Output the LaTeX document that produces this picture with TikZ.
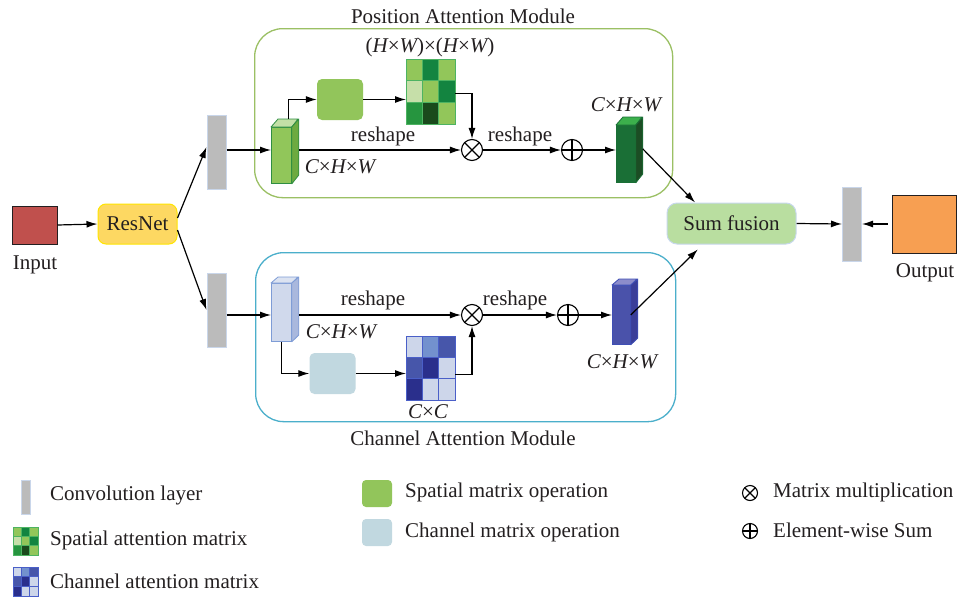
\documentclass[tikz,border=0pt]{standalone}
\usepackage{fontspec}
\setmainfont{Liberation Serif}
\usetikzlibrary{arrows.meta,calc}

% palette
\definecolor{txt}{HTML}{231F20}
\definecolor{inred}{HTML}{C0504D}
\definecolor{outorange}{HTML}{F79F52}
\definecolor{resfill}{HTML}{FDD862}
\definecolor{resedge}{HTML}{FFE500}
\definecolor{convgray}{HTML}{BBBBBB}
\definecolor{convedge}{HTML}{C9D6EA}
\definecolor{posedge}{HTML}{9BC064}
\definecolor{chanedge}{HTML}{4BAFCB}
\definecolor{spop}{HTML}{92C55B}
\definecolor{chop}{HTML}{C1D8E0}
\definecolor{sumfill}{HTML}{B9DEA0}
\definecolor{sumedge}{HTML}{C7D8EC}
% cuboid faces: F front, S side, T top, E edge
\definecolor{gcF}{HTML}{91C65A}\definecolor{gcS}{HTML}{6DAA40}
\definecolor{gcT}{HTML}{C3E0A6}\definecolor{gcE}{HTML}{2F8E42}
\definecolor{dgF}{HTML}{1A6F36}\definecolor{dgS}{HTML}{1C4D24}
\definecolor{dgT}{HTML}{3CB04C}\definecolor{dgE}{HTML}{1A6F36}
\definecolor{lbF}{HTML}{D0D9EC}\definecolor{lbS}{HTML}{A9B8DD}
\definecolor{lbT}{HTML}{DCE3F1}\definecolor{lbE}{HTML}{7E9CD6}
\definecolor{dbF}{HTML}{4A52AA}\definecolor{dbS}{HTML}{3A3E99}
\definecolor{dbT}{HTML}{8D8DCB}\definecolor{dbE}{HTML}{3F4FB5}
% attention matrix cells
\definecolor{gL}{HTML}{92C65A}\definecolor{gD}{HTML}{138440}
\definecolor{gP}{HTML}{C6DFA9}\definecolor{gM}{HTML}{26953F}
\definecolor{gV}{HTML}{1A4A1C}\definecolor{gGrid}{HTML}{4DB362}
\definecolor{bP}{HTML}{CDD6EA}\definecolor{bM}{HTML}{7391CE}
\definecolor{bD}{HTML}{4756AA}\definecolor{bV}{HTML}{2A2F8C}
\definecolor{bGrid}{HTML}{4A5FC8}

% cuboid: name, north-west corner, width, height, depth x, depth y, colour prefix
\newcommand{\cuboidat}[7]{%
  \node[draw=#7E, fill=#7F, line width=0.8pt, minimum width=#3, minimum height=#4,
        inner sep=0, anchor=north west] (#1) at #2 {};
  \filldraw[draw=#7E, fill=#7T, line width=0.8pt, line join=round]
    (#1.north west) -- ++(#5,-#6) -- ++(#3,0) -- (#1.north east) -- cycle;
  \filldraw[draw=#7E, fill=#7S, line width=0.8pt, line join=round]
    (#1.north east) -- ++(#5,-#6) -- ++(0,#4) -- (#1.south east) -- cycle;
}

% 3x3 grid of coloured cells: name, north-west corner, cell w, cell h, colours, grid colour
\newcommand{\cellgrid}[6]{%
  \node[minimum width=3*#3, minimum height=3*#4, inner sep=0, anchor=north west] (#1) at #2 {};
  \foreach \c [count=\i from 0] in {#5}{%
    \pgfmathtruncatemacro\gcol{mod(\i,3)}%
    \pgfmathtruncatemacro\grow{div(\i,3)}%
    \filldraw[fill=\c, draw=#6, line width=0.8pt]
      ($(#1.north west)+(\gcol*#3,\grow*#4)$) rectangle ++(#3,#4);
  }
}

\tikzset{
  arr/.style={-{Latex[length=11pt,width=7pt]}, line width=1.2pt, draw=black},
  lbl/.style={font=\fontsize{21}{24}\selectfont, text=txt, inner sep=0},
  conv/.style={draw=convedge, fill=convgray, line width=1pt, minimum width=19,
               minimum height=74, inner sep=0},
  opbox/.style={rounded corners=5, inner sep=0, minimum width=46, minimum height=41},
  module/.style={rounded corners=28, line width=1.3pt, inner sep=0, anchor=north west},
  otimes/.style={circle, draw, line width=1.1pt, minimum size=21, inner sep=0,
    path picture={\draw[line width=1.1pt]
      (path picture bounding box.north west) -- (path picture bounding box.south east)
      (path picture bounding box.north east) -- (path picture bounding box.south west);}},
  oplus/.style={circle, draw, line width=1.1pt, minimum size=21, inner sep=0,
    path picture={\draw[line width=1.1pt]
      (path picture bounding box.north) -- (path picture bounding box.south)
      (path picture bounding box.west) -- (path picture bounding box.east);}},
}

\newcommand{\chw}{{\itshape C}×{\itshape H}×{\itshape W}}

\begin{document}
\begin{tikzpicture}[x=1pt, y=-1pt]
\useasboundingbox (0,0) rectangle (960,597);
\fill[white] (0,0) rectangle (960,597);

% ---------- modules ----------
\node[module, draw=posedge, minimum width=418, minimum height=169] (pam) at (254,28) {};
\node[lbl] (pamt) at (463,16) {Position Attention Module};
\node[module, draw=chanedge, minimum width=420, minimum height=169] (cam) at (255,252) {};
\node[lbl] (camt) at (463,438) {Channel Attention Module};

% ---------- backbone ----------
\node[draw=txt, fill=inred, line width=1pt, minimum width=45, minimum height=38, inner sep=0] (inp) at (34.5,225) {};
\node[lbl] (inpt) at (35,265) {Input};
\node[lbl, draw=resedge, fill=resfill, line width=1pt, rounded corners=8,
      minimum width=79, minimum height=40] (resnet) at (137.5,224) {ResNet};
\node[conv] (convA) at (216.5,152) {};
\node[conv] (convB) at (216.5,310) {};

\draw[arr] (inp.east) -- (resnet.west);
\draw[arr] ($(resnet.east)+(0,-6)$) -- ($(convA.west)+(0,-5)$);
\draw[arr] ($(resnet.east)+(0,6)$) -- (convB.west);

% ---------- position attention branch ----------
\cuboidat{gc}{(271,127)}{20}{56}{7}{8}{gc}
\node[opbox, fill=spop] (sop) at (340,99.5) {};
\cellgrid{gm}{(406,59)}{16.33}{21.67}{gL,gD,gL,gP,gL,gD,gM,gV,gL}{gGrid}
\node[lbl] (gmt) at (430,47) {({\itshape H}×{\itshape W})×({\itshape H}×{\itshape W})};
\node[otimes] (m1) at (472,150) {};
\node[oplus] (p1) at (572,150) {};
\cuboidat{dg}{(616,125)}{19}{57}{7}{8}{dg}
\node[lbl] (gct) at (340,167) {\chw};
\node[lbl] (dgt) at (626,105) {\chw};
\node[lbl] (rs1) at (383,136) {reshape};
\node[lbl] (rs2) at (520,136) {reshape};

\draw[arr] (convA.east |- m1) -- (gc.west |- m1);
\draw[arr] ($(gc.north)+(7,-8)$) |- (sop.west);
\draw[arr] (sop.east) -- (sop.east -| gm.west);
\draw[arr] ($(gm.east)+(0,2)$) -| (m1.north);
\draw[arr] ($(gc.east |- m1)+(7,0)$) -- (m1.west);
\draw[arr] (m1.east) -- (p1.west);
\draw[arr] (p1.east) -- (p1 -| dg.west);

% ---------- channel attention branch ----------
\cuboidat{bb}{(271,283)}{20}{58}{7}{6}{lb}
\node[opbox, fill=chop] (cop) at (332.5,373.5) {};
\cellgrid{bm}{(406,336)}{16.33}{21.33}{bP,bM,bD,bD,bV,bP,bV,bP,bP}{bGrid}
\node[lbl] (bmt) at (428,412) {{\itshape C}×{\itshape C}};
\node[otimes] (m2) at (472,315) {};
\node[oplus] (p2) at (568,315) {};
\cuboidat{bb2}{(612,285)}{18}{59}{7}{6}{db}
\node[lbl] (bbt) at (341,332) {\chw};
\node[lbl] (bb2t) at (622,362) {\chw};
\node[lbl] (rs3) at (373,300) {reshape};
\node[lbl] (rs4) at (515,300) {reshape};

\draw[arr] (convB.east |- m2) -- (bb.west |- m2);
\draw[arr] ($(bb.east |- m2)+(7,0)$) -- (m2.west);
\draw[arr] (bb.south) |- (cop.west);
\draw[arr] (cop.east) -- (cop.east -| bm.west);
\draw[arr] ($(bm.east)+(0,6)$) -| (m2.south);
\draw[arr] (m2.east) -- (p2.west);
\draw[arr] (p2.east) -- (p2 -| bb2.west);

% ---------- fusion and output ----------
\node[lbl, draw=sumedge, fill=sumfill, line width=1pt, rounded corners=10,
      minimum width=129, minimum height=41] (sf) at (731.5,223.5) {Sum fusion};
\node[conv] (convC) at (852,224) {};
\node[draw=txt, fill=outorange, line width=1pt, minimum width=64, minimum height=58, inner sep=0] (out) at (924,224) {};
\node[lbl] (outt) at (925,273) {Output};

\draw[arr] ($(dg.east)+(7,-5)$) -- ($(sf.north west)!0.22!(sf.north east)$);
\draw[arr, shorten >=7pt] (bb2.east) -- ($(sf.south west)!0.28!(sf.south east)$);
\draw[arr] (sf.east) -- (convC.west);
\draw[arr, shorten <=4pt] (out.west) -- (convC.east);

% ---------- legend ----------
\node[conv, minimum width=9, minimum height=34] (lgconv) at (25.5,497) {};
\node[lbl, anchor=west] (lgconvt) at (50,495) {Convolution layer};
\cellgrid{lgsp}{(13,527)}{8.33}{9.33}{gL,gD,gL,gP,gL,gD,gM,gV,gL}{gGrid}
\node[lbl, anchor=west] (lgspt) at (50,540) {Spatial attention matrix};
\cellgrid{lgch}{(13,567)}{8.33}{9.67}{bP,bM,bD,bD,bV,bP,bV,bP,bP}{bGrid}
\node[lbl, anchor=west] (lgcht) at (50,581) {Channel attention matrix};

\node[opbox, fill=spop, rounded corners=4, minimum width=30, minimum height=27] (lgsop) at (377,493.5) {};
\node[lbl, anchor=west] (lgsopt) at (405,492) {Spatial matrix operation};
\node[opbox, fill=chop, rounded corners=4, minimum width=30, minimum height=27] (lgcop) at (377,532.5) {};
\node[lbl, anchor=west] (lgcopt) at (405,532) {Channel matrix operation};

\node[otimes, minimum size=15] (lgm) at (750,493) {};
\node[lbl, anchor=west] (lgmt) at (773,492) {Matrix multiplication};
\node[oplus, minimum size=15] (lgp) at (750,531) {};
\node[lbl, anchor=west] (lgpt) at (773,530) {Element-wise Sum};
\end{tikzpicture}
\end{document}
